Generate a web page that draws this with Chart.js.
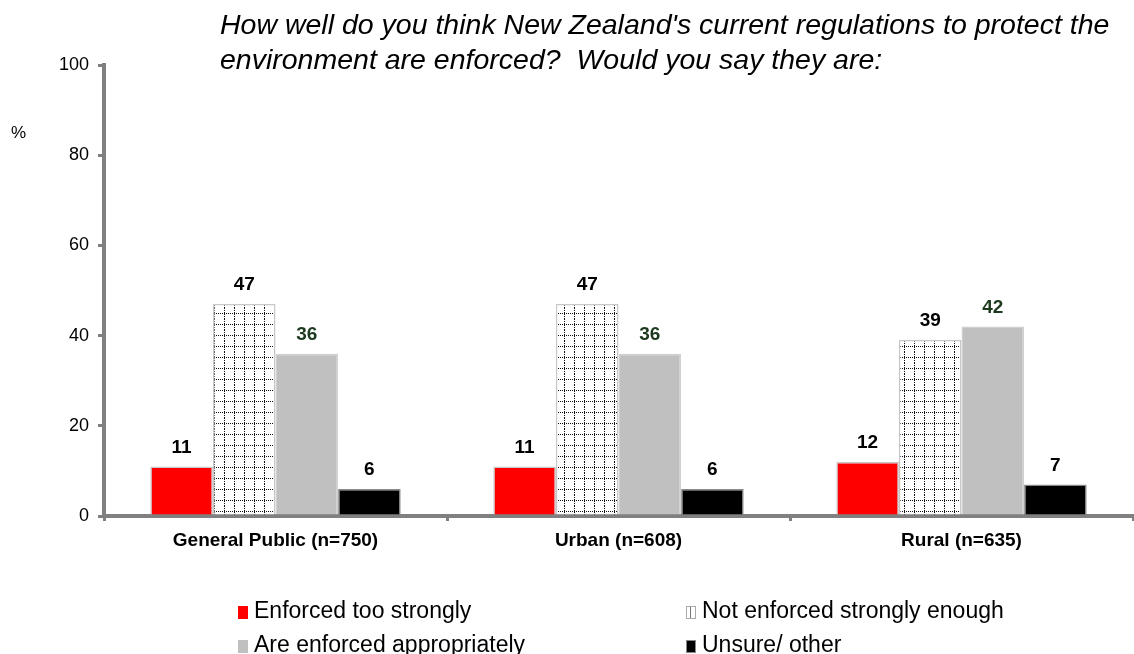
<!DOCTYPE html>
<html>
<head>
<meta charset="utf-8">
<script src="https://cdn.jsdelivr.net/npm/chart.js@4.4.1/dist/chart.umd.min.js"></script>
<style>
  html, body { margin: 0; padding: 0; background: #fff; }
  #wrap { position: relative; width: 1134px; height: 654px; overflow: hidden; font-family: "Liberation Sans", Arial, sans-serif; }
  #chart { position: absolute; left: 0; top: 0; }
  #title { position: absolute; left: 220px; top: 7px; font-size: 28.5px; font-style: italic; line-height: 35px; color: #000; white-space: nowrap; }
  #unit { position: absolute; left: 11px; top: 123px; font-size: 17px; color: #000; }
  .lg { position: absolute; font-size: 23px; color: #000; white-space: nowrap; line-height: 26px; }
  .lg i { display: inline-block; width: 10px; height: 13px; margin-right: 6px; vertical-align: -1px; box-sizing: border-box; }
</style>
</head>
<body>
<div id="wrap">
  <canvas id="chart" width="1134" height="654"></canvas>
  <div id="title">How well do you think New Zealand's current regulations to protect the<br>environment are enforced?&nbsp; Would you say they are:</div>
  <div id="unit">%</div>
  <div id="legend"></div>
</div>
<script>
// Survey groups and answer shares (%)
const categories = ["General Public (n=750)", "Urban (n=608)", "Rural (n=635)"];
const seriesNames = ["Enforced too strongly", "Not enforced strongly enough", "Are enforced appropriately", "Unsure/ other"];
const tooStrongly = [11, 11, 12];
const notEnough = [47, 47, 39];
const appropriately = [36, 36, 42];
const unsure = [6, 6, 7];
const yTicks = [0, 20, 40, 60, 80, 100];

// dotted grid fill for the "not enough" bars
function gridPattern() {
  const c = document.createElement("canvas");
  c.width = 10; c.height = 11;
  const g = c.getContext("2d");
  g.fillStyle = "#fff"; g.fillRect(0, 0, 10, 11);
  g.fillStyle = "#111";
  for (let y = 0; y < 11; y += 2) g.fillRect(4, y, 1, 1);
  for (let x = 0; x < 10; x += 2) g.fillRect(x, 5, 1, 1);
  return document.getElementById("chart").getContext("2d").createPattern(c, "repeat");
}
const pattern = gridPattern();

const fills = ["#ff0000", pattern, "#c0c0c0", "#000000"];
const borders = ["#c8c8c8", "#c8c8c8", "#d0d0d0", "#8a8a8a"];
const labelColors = ["#000", "#000", "#1e3a1e", "#000"];
const values = [tooStrongly, notEnough, appropriately, unsure];

const valueLabels = {
  id: "valueLabels",
  afterDatasetsDraw(chart) {
    const ctx = chart.ctx;
    ctx.save();
    ctx.font = "bold 19px 'Liberation Sans', Arial, sans-serif";
    ctx.textAlign = "center";
    ctx.textBaseline = "middle";
    chart.data.datasets.forEach((ds, i) => {
      chart.getDatasetMeta(i).data.forEach((bar, j) => {
        ctx.fillStyle = labelColors[i];
        ctx.fillText(String(ds.data[j]), bar.x, bar.y - 19);
      });
    });
    ctx.restore();
  }
};

new Chart(document.getElementById("chart"), {
  type: "bar",
  data: {
    labels: categories,
    datasets: seriesNames.map((name, i) => ({
      label: name,
      data: values[i],
      backgroundColor: fills[i],
      borderColor: borders[i],
      borderWidth: 1.5,
      barPercentage: 1,
      categoryPercentage: 0.73
    }))
  },
  options: {
    responsive: false,
    animation: false,
    layout: { padding: { top: 65, right: 1, left: 0, bottom: 0 } },
    plugins: { legend: { display: false }, tooltip: { enabled: false } },
    scales: {
      x: {
        afterFit(s) { s.height = 138; },
        border: { display: true, color: "#808080", width: 4 },
        grid: { offset: true, drawOnChartArea: false, drawTicks: true, tickLength: 5, color: "#808080", lineWidth: 3 },
        ticks: { color: "#000", padding: 8, font: { family: "'Liberation Sans', Arial, sans-serif", size: 19, weight: "bold" } }
      },
      y: {
        min: 0, max: 100,
        afterFit(s) { s.width = 104; },
        afterBuildTicks(s) { s.ticks = yTicks.map(v => ({ value: v })); },
        border: { display: true, color: "#808080", width: 4 },
        grid: { drawOnChartArea: false, drawTicks: true, tickLength: 6, color: "#808080", lineWidth: 3 },
        ticks: { color: "#000", padding: 9, font: { family: "'Liberation Sans', Arial, sans-serif", size: 18 } }
      }
    }
  },
  plugins: [valueLabels]
});

// legend in two columns under the plot
const legendPos = [[238, 597], [686, 597], [238, 631], [686, 631]];
const legend = document.getElementById("legend");
seriesNames.forEach((name, i) => {
  const d = document.createElement("div");
  d.className = "lg";
  d.style.left = legendPos[i][0] + "px";
  d.style.top = legendPos[i][1] + "px";
  const sw = document.createElement("i");
  if (i === 1) {
    sw.style.background = "#fff";
    sw.style.border = "1px solid #aaa";
    sw.style.boxShadow = "inset 3px 0 0 #fff, inset 4px 0 0 #777";
  } else {
    sw.style.background = fills[i];
    if (i === 3) sw.style.border = "1px solid #888";
  }
  d.appendChild(sw);
  d.appendChild(document.createTextNode(name));
  legend.appendChild(d);
});
</script>
</body>
</html>
